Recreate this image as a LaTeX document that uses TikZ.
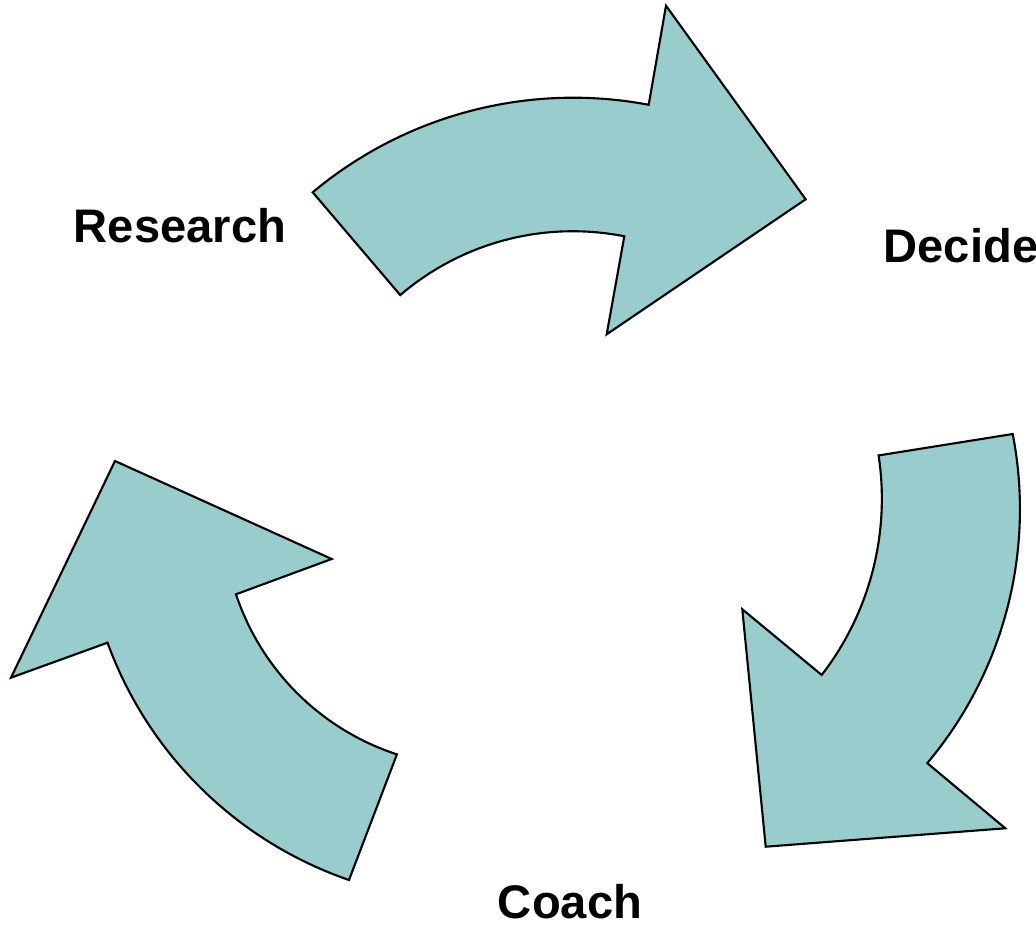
\documentclass[tikz,border=0pt]{standalone}
\usepackage{fontspec}
\setmainfont{Liberation Sans}
\definecolor{arrowteal}{RGB}{153,204,204}

\begin{document}
\begin{tikzpicture}[x=0.01cm,y=-0.01cm,
  bigarrow/.style={fill=arrowteal,draw=black,line width=0.6pt,line join=miter},
  steplabel/.style={font=\fontsize{13.4}{16}\selectfont\bfseries,inner sep=0pt}]

  \useasboundingbox (0,0) rectangle (1036,925);
  \clip (0,0) rectangle (1036,925);

  % Research -> Decide
  \draw[bigarrow] (312.7,192.3) arc[start angle=129.9,end angle=79.3,radius=4.06cm]
    -- (666,5.7) -- (805.7,199.3) -- (606.7,334.3) -- (624.3,236.3)
    arc[start angle=78.8,end angle=130.6,radius=2.65cm] -- cycle;

  % Decide -> Coach
  \draw[bigarrow] (1012.7,434) arc[start angle=11,end angle=-40.1,radius=3.94cm]
    -- (1005.3,828.3) -- (765.7,846.7) -- (742.3,609.3) -- (821.7,675)
    arc[start angle=-37.7,end angle=8.65,radius=2.88cm] -- cycle;

  % Coach -> Research
  \draw[bigarrow] (349,880) arc[start angle=251,end angle=200,radius=3.93cm]
    -- (11,677.7) -- (115,461) -- (331.7,559) -- (236,594.3)
    arc[start angle=198.4,end angle=251.9,radius=2.52cm] -- cycle;

  \node[steplabel,anchor=base]      (research) at (180,243) {Research};
  \node[steplabel,anchor=base west] (decide)   at (883,263) {Decide};
  \node[steplabel,anchor=base]      (coach)    at (570,919) {Coach};
\end{tikzpicture}
\end{document}
